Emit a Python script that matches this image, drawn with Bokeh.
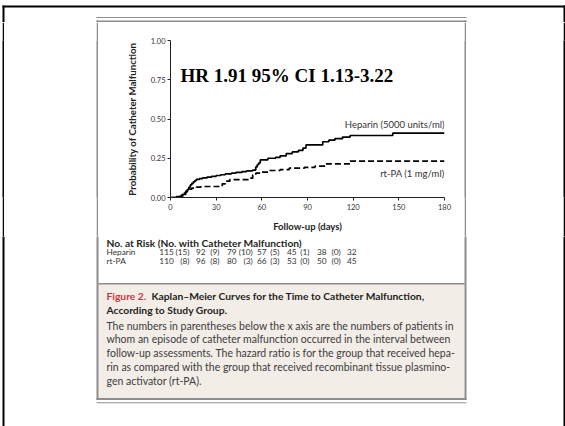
from bokeh.plotting import figure
from bokeh.layouts import row, column
from bokeh.models import Label, FixedTicker, NumeralTickFormatter, Range1d
from bokeh.embed import file_html
from bokeh.resources import INLINE

# ---------------- data ----------------
heparin_days = [0, 4, 8, 10, 11, 12, 13, 14, 15, 16, 17, 19, 21, 24, 27, 30, 33, 36, 40, 43, 47, 50, 54,
                56, 57, 58, 59, 64, 69, 72, 76, 80, 84, 87, 89, 100, 104, 108, 113, 118, 146, 180]
heparin_prob = [0.0, 0.006, 0.02, 0.035, 0.05, 0.065, 0.08, 0.09, 0.10, 0.108, 0.115, 0.12, 0.125, 0.13,
                0.135, 0.14, 0.145, 0.15, 0.155, 0.16, 0.165, 0.17, 0.175, 0.195, 0.21, 0.22, 0.24, 0.25,
                0.255, 0.265, 0.28, 0.29, 0.30, 0.315, 0.335, 0.355, 0.365, 0.375, 0.385, 0.395, 0.41, 0.41]
rtpa_days = [0, 5, 7, 9, 10, 12, 14, 17, 20, 34, 36, 39, 52, 54, 56, 59, 65, 72, 78, 88, 95, 102, 118, 180]
rtpa_prob = [0.0, 0.006, 0.015, 0.028, 0.04, 0.053, 0.06, 0.066, 0.07, 0.087, 0.104, 0.114, 0.123, 0.144,
             0.155, 0.162, 0.172, 0.178, 0.187, 0.192, 0.2, 0.214, 0.232, 0.232]

x_ticks = [0, 30, 60, 90, 120, 150, 180]
y_ticks = [0.0, 0.25, 0.50, 0.75, 1.00]

series_labels = ["Heparin (5000 units/ml)", "rt-PA (1 mg/ml)"]
series_label_y = [0.465, 0.153]
hr_text = "HR 1.91 95% CI 1.13-3.22"
x_label = "Follow-up (days)"
y_label = "Probability of Catheter Malfunction"

risk_title = "No. at Risk (No. with Catheter Malfunction)"
risk_groups = ["Heparin", "rt-PA"]
heparin_at_risk = [115, 92, 79, 57, 45, 38, 32]
heparin_events = [15, 9, 10, 5, 1, 0]
rtpa_at_risk = [110, 96, 80, 66, 53, 50, 45]
rtpa_events = [8, 8, 3, 3, 0, 0]

caption_head = "Figure 2."
caption_title = ["Kaplan\u2013Meier Curves for the Time to Catheter Malfunction,",
                 "According to Study Group."]
caption_body = [
    "The numbers in parentheses below the x axis are the numbers of patients in",
    "whom an episode of catheter malfunction occurred in the interval between",
    "follow-up assessments. The hazard ratio is for the group that received hepa-",
    "rin as compared with the group that received recombinant tissue plasmino-",
    "gen activator (rt-PA).",
]

FONT = "Lato"
GRAY = "#8c8c8c"
BEIGE = "#f3ede8"

# decorations in page pixels: (left, top, right, bottom, colour)
DECOR = [
    (2, 5, 4, 426, "black"),
    (2, 5, 565, 7, "black"),
    (563, 5, 565, 426, "black"),
    (96, 16.5, 466, 17.5, GRAY),
    (98, 283, 464, 397.5, BEIGE),
    (98, 282.5, 464, 284, GRAY),
    (96, 20, 98, 399.5, GRAY),
    (464, 20, 466, 399.5, GRAY),
    (96, 20, 466, 22, GRAY),
    (96, 397.5, 466, 399.5, GRAY),
    (96, 401.7, 466, 402.7, GRAY),
]


def canvas_fig(x0, y0, w, h):
    f = figure(width=w, height=h, x_range=Range1d(x0, x0 + w), y_range=Range1d(y0 + h, y0),
               x_axis_location=None, y_axis_location=None, toolbar_location=None, title=None,
               output_backend="svg", min_border=0)
    f.xgrid.visible = False
    f.ygrid.visible = False
    f.outline_line_color = None
    f.background_fill_color = "white"
    f.border_fill_color = "white"
    for (l, t, r, b, c) in DECOR:
        f.quad(left=l, right=r, top=t, bottom=b, fill_color=c, line_color=None)
    return f


def block(w, h, colour):
    f = figure(width=w, height=h, x_range=Range1d(0, 1), y_range=Range1d(0, 1),
               x_axis_location=None, y_axis_location=None, toolbar_location=None, title=None,
               output_backend="svg", min_border=0)
    f.xgrid.visible = False
    f.ygrid.visible = False
    f.outline_line_color = None
    f.background_fill_color = colour
    f.border_fill_color = colour
    return f


def text(f, xp, yp, s, size, color="#231f20", bold=False, align="left", font=FONT):
    f.add_layout(Label(x=xp, y=yp, text=s, text_align=align, text_baseline="middle",
                       text_font=font, text_font_size=size, text_color=color,
                       text_font_style="bold" if bold else "normal"))


# ---------------- chart figure ----------------
BAND_H = 214
p = figure(width=366, height=BAND_H, x_range=Range1d(0, 180), y_range=Range1d(0, 1),
           output_backend="svg", toolbar_location=None,
           min_border_left=72, min_border_right=20, min_border_top=18, min_border_bottom=39)
p.background_fill_color = "white"
p.border_fill_color = "white"
p.outline_line_color = None
p.xgrid.visible = False
p.ygrid.visible = False

for ax in (p.xaxis, p.yaxis):
    ax.minor_tick_line_color = None
    ax.major_tick_in = 0
    ax.major_tick_out = 3
    ax.axis_line_color = "#222222"
    ax.major_tick_line_color = "#222222"
    ax.major_label_text_font = FONT
    ax.major_label_text_font_size = "7.5px"
    ax.major_label_text_color = "#333333"
    ax.axis_label_text_font = FONT
    ax.axis_label_text_font_style = "bold"
    ax.axis_label_text_color = "#222222"

p.xaxis.ticker = FixedTicker(ticks=x_ticks)
p.yaxis.ticker = FixedTicker(ticks=y_ticks)
p.yaxis.formatter = NumeralTickFormatter(format="0.00")
p.xaxis.major_label_standoff = 3
p.yaxis.major_label_standoff = 2
p.xaxis.axis_label = x_label
p.yaxis.axis_label = y_label
p.xaxis.axis_label_text_font_size = "9.5px"
p.yaxis.axis_label_text_font_size = "9.7px"
p.xaxis.axis_label_standoff = 8
p.yaxis.axis_label_standoff = 10

p.step(heparin_days, heparin_prob, mode="after", line_color="black", line_width=1.7)
p.step(rtpa_days, rtpa_prob, mode="after", line_color="black", line_width=1.7, line_dash="6 3")

for lab, ly in zip(series_labels, series_label_y):
    p.add_layout(Label(x=180, y=ly, text=lab, text_align="right", text_baseline="middle",
                       text_font=FONT, text_font_size="9.5px", text_color="#333333"))
p.add_layout(Label(x=6.6, y=0.777, text=hr_text, text_baseline="middle",
                   text_font="Liberation Serif", text_font_style="bold", text_font_size="19px",
                   text_color="black"))

# ---------------- surrounding canvases ----------------
top = canvas_fig(0, 0, 565, 22)
bottom = canvas_fig(0, 236, 565, 190)

# vertical rules of the band as solid blocks: (width, colour), left to right
band_left = [(2, "white"), (2, "black"), (92, "white"), (2, GRAY)]
band_right = [(2, GRAY), (97, "white"), (2, "black")]
band = row(*[block(w, BAND_H, c) for w, c in band_left], p,
           *[block(w, BAND_H, c) for w, c in band_right], spacing=0)

# number-at-risk table
text(bottom, 106, 242.7, risk_title, "10.2px", bold=True)
num_right = [173.3, 205, 236, 266, 296, 326, 356]
par_right = [189, 219, 252.3, 279, 309, 340.3]
rows = [(risk_groups[0], heparin_at_risk, heparin_events, 251.5),
        (risk_groups[1], rtpa_at_risk, rtpa_events, 260)]
for name, at_risk, events, yy in rows:
    text(bottom, 106, yy, name, "8.3px", color="#333333")
    for xr, v in zip(num_right, at_risk):
        text(bottom, xr, yy, str(v), "8.3px", color="#333333", align="right")
    for xr, v in zip(par_right, events):
        text(bottom, xr, yy, "(%d)" % v, "8.3px", color="#333333", align="right")

# caption
text(bottom, 106, 295, caption_head, "10.3px", color="#d0343c", bold=True)
text(bottom, 151, 295, caption_title[0], "10.3px", bold=True)
text(bottom, 106, 309.3, caption_title[1], "10.3px", bold=True)
for i, line in enumerate(caption_body):
    text(bottom, 106, 325 + i * 13.9, line, "10.5px", color="#3c3c3c")

layout = column(top, band, bottom, spacing=0)
open("out.html", "w").write(file_html(layout, INLINE))
